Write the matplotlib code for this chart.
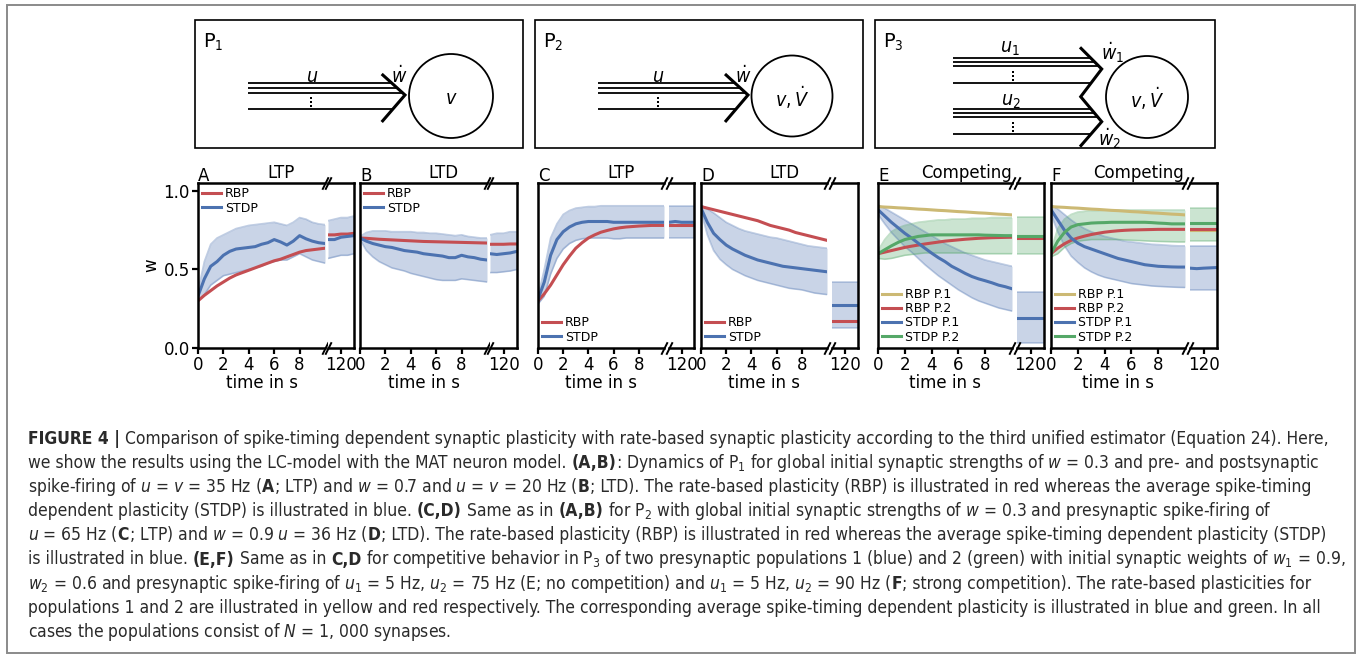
import matplotlib
matplotlib.use('Agg')
import matplotlib.pyplot as plt
from matplotlib import font_manager
from matplotlib.font_manager import FontProperties
from matplotlib.patches import Rectangle, Circle

# ============================================================
# DATA
# ============================================================
t_main = [0, 0.5, 1, 1.5, 2, 2.5, 3, 3.5, 4, 4.5, 5, 5.5, 6, 6.5, 7, 7.5, 8, 8.5, 9, 9.5, 10]
t_late = [119, 119.5, 120, 120.5, 121]

# A : P1, LTP
A_rbp = [0.30, 0.335, 0.365, 0.395, 0.42, 0.445, 0.465, 0.48, 0.495, 0.51, 0.525, 0.54, 0.555, 0.565, 0.58, 0.595, 0.61, 0.62, 0.625, 0.63, 0.635]
A_rbp_late = [0.72, 0.72, 0.725, 0.725, 0.73]
A_stdp = [0.33, 0.44, 0.52, 0.55, 0.59, 0.615, 0.63, 0.635, 0.64, 0.645, 0.66, 0.67, 0.69, 0.675, 0.655, 0.68, 0.715, 0.695, 0.68, 0.67, 0.665]
A_stdp_hi = [0.36, 0.55, 0.66, 0.70, 0.72, 0.74, 0.76, 0.77, 0.78, 0.785, 0.79, 0.795, 0.80, 0.79, 0.78, 0.80, 0.83, 0.82, 0.80, 0.79, 0.785]
A_stdp_lo = [0.30, 0.34, 0.40, 0.43, 0.46, 0.47, 0.48, 0.49, 0.50, 0.51, 0.52, 0.54, 0.55, 0.56, 0.56, 0.58, 0.60, 0.58, 0.56, 0.55, 0.54]
A_stdp_late = [0.69, 0.69, 0.705, 0.71, 0.715]
A_stdp_hi_late = [0.81, 0.82, 0.83, 0.83, 0.84]
A_stdp_lo_late = [0.57, 0.58, 0.59, 0.59, 0.60]

# B : P1, LTD
B_rbp = [0.70, 0.698, 0.695, 0.692, 0.69, 0.688, 0.686, 0.684, 0.682, 0.68, 0.678, 0.677, 0.676, 0.675, 0.674, 0.673, 0.672, 0.671, 0.67, 0.669, 0.668]
B_rbp_late = [0.66, 0.66, 0.66, 0.662, 0.662]
B_stdp = [0.70, 0.68, 0.665, 0.655, 0.645, 0.64, 0.63, 0.62, 0.615, 0.61, 0.60, 0.595, 0.59, 0.585, 0.575, 0.575, 0.59, 0.58, 0.575, 0.565, 0.56]
B_stdp_hi = [0.71, 0.735, 0.745, 0.745, 0.745, 0.74, 0.74, 0.74, 0.74, 0.735, 0.735, 0.73, 0.73, 0.725, 0.72, 0.715, 0.72, 0.71, 0.705, 0.70, 0.70]
B_stdp_lo = [0.69, 0.62, 0.58, 0.55, 0.53, 0.51, 0.50, 0.49, 0.475, 0.465, 0.455, 0.445, 0.435, 0.43, 0.43, 0.43, 0.44, 0.435, 0.43, 0.425, 0.42]
B_stdp_late = [0.60, 0.595, 0.60, 0.605, 0.615]
B_stdp_hi_late = [0.72, 0.73, 0.73, 0.74, 0.74]
B_stdp_lo_late = [0.48, 0.48, 0.485, 0.49, 0.50]

# C : P2, LTP
C_rbp = [0.30, 0.345, 0.40, 0.465, 0.53, 0.585, 0.635, 0.67, 0.70, 0.72, 0.737, 0.748, 0.758, 0.765, 0.77, 0.773, 0.776, 0.778, 0.78, 0.78, 0.78]
C_rbp_late = [0.78, 0.78, 0.78, 0.78, 0.78]
C_stdp = [0.31, 0.42, 0.59, 0.69, 0.74, 0.77, 0.79, 0.80, 0.805, 0.805, 0.805, 0.805, 0.80, 0.80, 0.80, 0.80, 0.80, 0.80, 0.80, 0.80, 0.80]
C_stdp_hi = [0.33, 0.50, 0.70, 0.79, 0.85, 0.875, 0.89, 0.895, 0.90, 0.90, 0.905, 0.905, 0.905, 0.905, 0.905, 0.905, 0.905, 0.905, 0.905, 0.905, 0.905]
C_stdp_lo = [0.28, 0.33, 0.47, 0.57, 0.63, 0.665, 0.685, 0.695, 0.70, 0.70, 0.70, 0.70, 0.695, 0.695, 0.70, 0.70, 0.70, 0.70, 0.70, 0.70, 0.70]
C_stdp_late = [0.80, 0.805, 0.80, 0.80, 0.80]
C_stdp_hi_late = [0.905, 0.905, 0.905, 0.905, 0.905]
C_stdp_lo_late = [0.70, 0.70, 0.70, 0.70, 0.70]

# D : P2, LTD
D_rbp = [0.90, 0.89, 0.88, 0.87, 0.86, 0.85, 0.84, 0.83, 0.82, 0.81, 0.795, 0.78, 0.77, 0.76, 0.75, 0.735, 0.725, 0.715, 0.705, 0.695, 0.685]
D_rbp_late = [0.17, 0.17, 0.17, 0.17, 0.17]
D_stdp = [0.89, 0.80, 0.73, 0.69, 0.655, 0.63, 0.61, 0.59, 0.575, 0.56, 0.55, 0.54, 0.53, 0.52, 0.515, 0.51, 0.505, 0.50, 0.495, 0.49, 0.485]
D_stdp_hi = [0.91, 0.885, 0.86, 0.83, 0.80, 0.78, 0.76, 0.745, 0.735, 0.725, 0.715, 0.705, 0.70, 0.69, 0.68, 0.67, 0.66, 0.65, 0.645, 0.64, 0.635]
D_stdp_lo = [0.87, 0.72, 0.62, 0.565, 0.53, 0.50, 0.48, 0.46, 0.445, 0.43, 0.42, 0.41, 0.40, 0.39, 0.38, 0.375, 0.37, 0.36, 0.35, 0.345, 0.34]
D_stdp_late = [0.275, 0.275, 0.275, 0.275, 0.275]
D_stdp_hi_late = [0.42, 0.42, 0.42, 0.42, 0.42]
D_stdp_lo_late = [0.125, 0.125, 0.125, 0.125, 0.125]

# E : P3, no competition
E_rbp1 = [0.90, 0.897, 0.895, 0.892, 0.89, 0.887, 0.884, 0.882, 0.879, 0.876, 0.874, 0.871, 0.868, 0.866, 0.863, 0.86, 0.858, 0.855, 0.852, 0.85, 0.847]
E_rbp1_late = [0.71, 0.71, 0.71, 0.71, 0.71]
E_rbp2 = [0.60, 0.61, 0.62, 0.63, 0.64, 0.648, 0.655, 0.662, 0.668, 0.674, 0.68, 0.684, 0.688, 0.692, 0.695, 0.698, 0.70, 0.702, 0.703, 0.704, 0.705]
E_rbp2_late = [0.70, 0.70, 0.70, 0.70, 0.70]
E_stdp1 = [0.88, 0.84, 0.80, 0.765, 0.73, 0.70, 0.667, 0.635, 0.604, 0.575, 0.55, 0.52, 0.498, 0.475, 0.455, 0.44, 0.428, 0.415, 0.40, 0.39, 0.377]
E_stdp1_hi = [0.91, 0.89, 0.865, 0.84, 0.815, 0.79, 0.765, 0.74, 0.715, 0.69, 0.665, 0.645, 0.625, 0.605, 0.59, 0.575, 0.56, 0.55, 0.54, 0.53, 0.52]
E_stdp1_lo = [0.85, 0.79, 0.735, 0.69, 0.645, 0.61, 0.57, 0.53, 0.495, 0.46, 0.43, 0.40, 0.37, 0.345, 0.32, 0.30, 0.285, 0.27, 0.255, 0.245, 0.235]
E_stdp1_late = [0.19, 0.19, 0.19, 0.19, 0.19]
E_stdp1_hi_late = [0.355, 0.355, 0.355, 0.355, 0.355]
E_stdp1_lo_late = [0.03, 0.03, 0.03, 0.03, 0.03]
E_stdp2 = [0.60, 0.625, 0.65, 0.672, 0.69, 0.70, 0.71, 0.715, 0.72, 0.72, 0.72, 0.72, 0.72, 0.72, 0.72, 0.72, 0.718, 0.717, 0.716, 0.715, 0.715]
E_stdp2_hi = [0.62, 0.69, 0.74, 0.765, 0.78, 0.79, 0.80, 0.805, 0.81, 0.815, 0.815, 0.82, 0.82, 0.82, 0.825, 0.825, 0.825, 0.83, 0.83, 0.83, 0.83]
E_stdp2_lo = [0.57, 0.565, 0.57, 0.58, 0.59, 0.595, 0.60, 0.605, 0.605, 0.605, 0.605, 0.605, 0.605, 0.605, 0.60, 0.60, 0.60, 0.60, 0.60, 0.60, 0.60]
E_stdp2_late = [0.715, 0.715, 0.715, 0.715, 0.715]
E_stdp2_hi_late = [0.835, 0.835, 0.835, 0.835, 0.835]
E_stdp2_lo_late = [0.60, 0.60, 0.60, 0.60, 0.60]

# F : P3, strong competition
F_rbp1 = [0.90, 0.897, 0.895, 0.892, 0.89, 0.887, 0.884, 0.882, 0.879, 0.876, 0.874, 0.871, 0.868, 0.866, 0.863, 0.86, 0.858, 0.855, 0.852, 0.85, 0.847]
F_rbp1_late = [0.752, 0.752, 0.752, 0.752, 0.752]
F_rbp2 = [0.60, 0.635, 0.663, 0.685, 0.70, 0.712, 0.722, 0.73, 0.737, 0.742, 0.746, 0.749, 0.751, 0.752, 0.753, 0.754, 0.755, 0.755, 0.755, 0.755, 0.755]
F_rbp2_late = [0.755, 0.755, 0.755, 0.755, 0.755]
F_stdp1 = [0.88, 0.815, 0.75, 0.70, 0.667, 0.645, 0.63, 0.615, 0.60, 0.585, 0.57, 0.56, 0.55, 0.54, 0.53, 0.525, 0.52, 0.518, 0.516, 0.515, 0.515]
F_stdp1_hi = [0.91, 0.885, 0.85, 0.815, 0.785, 0.76, 0.74, 0.725, 0.71, 0.70, 0.69, 0.68, 0.675, 0.67, 0.665, 0.66, 0.658, 0.655, 0.652, 0.65, 0.65]
F_stdp1_lo = [0.85, 0.74, 0.65, 0.585, 0.545, 0.51, 0.485, 0.465, 0.45, 0.44, 0.43, 0.42, 0.41, 0.405, 0.40, 0.395, 0.392, 0.39, 0.388, 0.386, 0.385]
F_stdp1_late = [0.508, 0.505, 0.508, 0.51, 0.512]
F_stdp1_hi_late = [0.646, 0.646, 0.646, 0.646, 0.646]
F_stdp1_lo_late = [0.37, 0.37, 0.37, 0.37, 0.37]
F_stdp2 = [0.60, 0.68, 0.735, 0.77, 0.785, 0.79, 0.795, 0.797, 0.798, 0.80, 0.80, 0.80, 0.80, 0.80, 0.80, 0.798, 0.795, 0.793, 0.79, 0.79, 0.79]
F_stdp2_hi = [0.62, 0.76, 0.82, 0.85, 0.865, 0.87, 0.875, 0.875, 0.877, 0.878, 0.878, 0.878, 0.878, 0.878, 0.878, 0.878, 0.878, 0.878, 0.878, 0.878, 0.878]
F_stdp2_lo = [0.58, 0.60, 0.64, 0.665, 0.68, 0.685, 0.69, 0.69, 0.69, 0.69, 0.69, 0.688, 0.686, 0.684, 0.682, 0.68, 0.678, 0.677, 0.676, 0.675, 0.675]
F_stdp2_late = [0.795, 0.795, 0.795, 0.795, 0.795]
F_stdp2_hi_late = [0.89, 0.89, 0.89, 0.89, 0.89]
F_stdp2_lo_late = [0.68, 0.68, 0.68, 0.68, 0.68]

BLUE = '#4c72b0'
RED = '#c44e52'
GREEN = '#55a868'
YELLOW = '#ccb974'

caption = [
    [('FIGURE 4 |', True), (' Comparison of spike-timing dependent synaptic plasticity with rate-based synaptic plasticity according to the third unified estimator (Equation 24). Here,', False)],
    [('we show the results using the LC-model with the MAT neuron model. ', False), ('(A,B)', True), (': Dynamics of P$_1$ for global initial synaptic strengths of $w$ = 0.3 and pre- and postsynaptic', False)],
    [('spike-firing of $u$ = $v$ = 35 Hz (', False), ('A', True), ('; LTP) and $w$ = 0.7 and $u$ = $v$ = 20 Hz (', False), ('B', True), ('; LTD). The rate-based plasticity (RBP) is illustrated in red whereas the average spike-timing', False)],
    [('dependent plasticity (STDP) is illustrated in blue. ', False), ('(C,D)', True), (' Same as in ', False), ('(A,B)', True), (' for P$_2$ with global initial synaptic strengths of $w$ = 0.3 and presynaptic spike-firing of', False)],
    [('$u$ = 65 Hz (', False), ('C', True), ('; LTP) and $w$ = 0.9 $u$ = 36 Hz (', False), ('D', True), ('; LTD). The rate-based plasticity (RBP) is illustrated in red whereas the average spike-timing dependent plasticity (STDP)', False)],
    [('is illustrated in blue. ', False), ('(E,F)', True), (' Same as in ', False), ('C,D', True), (' for competitive behavior in P$_3$ of two presynaptic populations 1 (blue) and 2 (green) with initial synaptic weights of $w_1$ = 0.9,', False)],
    [('$w_2$ = 0.6 and presynaptic spike-firing of $u_1$ = 5 Hz, $u_2$ = 75 Hz (E; no competition) and $u_1$ = 5 Hz, $u_2$ = 90 Hz (', False), ('F', True), ('; strong competition). The rate-based plasticities for', False)],
    [('populations 1 and 2 are illustrated in yellow and red respectively. The corresponding average spike-timing dependent plasticity is illustrated in blue and green. In all', False)],
    [('cases the populations consist of $N$ = 1, 000 synapses.', False)],
]

# ============================================================
# FONTS : look for a narrow face for the caption
# ============================================================
CAP_FONT, CAP_STRETCH = 'DejaVu Sans', 'normal'
for fam in ['Liberation Sans Narrow', 'DejaVu Sans', 'Noto Sans', 'Open Sans', 'Roboto']:
    try:
        path = font_manager.findfont(FontProperties(family=fam, stretch='condensed'),
                                     fallback_to_default=False)
    except Exception:
        continue
    if fam == 'Liberation Sans Narrow' or 'ondensed' in path or 'Narrow' in path:
        CAP_FONT = fam
        CAP_STRETCH = 'normal' if fam == 'Liberation Sans Narrow' else 'condensed'
        break

pat = CAP_FONT + ('' if CAP_STRETCH == 'normal' else ':stretch=condensed')
plt.rcParams['mathtext.fontset'] = 'custom'
plt.rcParams['mathtext.rm'] = pat
plt.rcParams['mathtext.it'] = pat + ':style=italic'
plt.rcParams['mathtext.bf'] = pat + ':weight=bold'

W, H = 1360, 658
fig = plt.figure(figsize=(W / 100, H / 100), dpi=100)

# overlay in pixel coordinates (y down) for frame, schematics and caption
ov = fig.add_axes([0, 0, 1, 1])
ov.set_xlim(0, W)
ov.set_ylim(H, 0)
ov.axis('off')

ov.add_patch(Rectangle((7, 5), 1348, 648, fill=False, ec='#8a8a8a', lw=1.4))


# ============================================================
# SCHEMATICS P1, P2, P3
# ============================================================
def line(xs, ys, lw=1.3):
    ov.plot(xs, ys, color='k', lw=lw, solid_capstyle='butt', solid_joinstyle='miter')


def dots(x, y0):
    ov.plot([x, x, x], [y0, y0 + 4, y0 + 8], 's', color='k', ms=1.8, mew=0)


def label(x, y, s, size=14):
    ov.text(x, y, s, ha='center', va='center', fontsize=size)


# P1
ov.add_patch(Rectangle((195, 20), 328, 128, fill=False, ec='k', lw=1.2))
ov.text(203, 42, 'P$_1$', ha='left', va='center', fontsize=14)
for y, xe in [(83, 391.5), (88, 397), (93, 402.5)]:
    line([248, xe], [y, y])
line([248, 393], [109, 109])
line([381.7, 405, 381.7], [74, 95, 122], lw=2.2)
dots(311, 98)
label(312, 76, '$u$')
label(399, 76, r'$\dot{w}$')
ov.add_patch(Circle((451, 96), 42, fill=False, ec='k', lw=1.3))
label(451, 98, '$v$')

# P2
ov.add_patch(Rectangle((535, 20), 328, 128, fill=False, ec='k', lw=1.2))
ov.text(543, 42, 'P$_2$', ha='left', va='center', fontsize=14)
for y, xe in [(83, 735), (88, 740.5), (93, 746)]:
    line([598, xe], [y, y])
line([598, 736], [109, 109])
line([725, 748, 725], [74, 95, 122], lw=2.2)
dots(658, 98)
label(658, 76, '$u$')
label(743, 76, r'$\dot{w}$')
ov.add_patch(Circle((792, 96), 40.5, fill=False, ec='k', lw=1.3))
label(792, 98, r'$v,\dot{V}$')

# P3
ov.add_patch(Rectangle((875, 20), 340, 128, fill=False, ec='k', lw=1.2))
ov.text(883, 42, 'P$_3$', ha='left', va='center', fontsize=14)
for y, xe in [(57.7, 1090.4), (61.7, 1094.4), (65.7, 1098.4), (82.7, 1091.3)]:
    line([953, xe], [y, y])
for y, xe in [(109, 1091), (113.3, 1094.6), (117.3, 1098), (134, 1091)]:
    line([953, xe], [y, y])
line([1080, 1101.7, 1080.7, 1101.7, 1080], [47.3, 69, 96.7, 121.7, 146.7], lw=2.2)
dots(1013, 72)
dots(1013, 123)
label(1010, 48, '$u_1$')
label(1011, 101, '$u_2$')
label(1113, 53, r'$\dot{w}_1$')
label(1110, 139, r'$\dot{w}_2$')
ov.add_patch(Circle((1147, 97), 41, fill=False, ec='k', lw=1.3))
label(1147, 99, r'$v,\dot{V}$')


# ============================================================
# DATA PANELS
# ============================================================
TOP, BOT = 183, 348


def px_rect(x0, x1):
    return [x0 / W, 1 - BOT / H, (x1 - x0) / W, (BOT - TOP) / H]


def style(ax):
    for s in ax.spines.values():
        s.set_linewidth(1.8)
    ax.tick_params(labelsize=12, width=1.6, length=4, pad=2)
    ax.set_ylim(0, 1.05)


def panel(x0, x1, x2, x3, letter, title, lines, bands, legend_loc, ylab=False):
    ax = fig.add_axes(px_rect(x0, x1))
    ax2 = fig.add_axes(px_rect(x2, x3))
    for a in (ax, ax2):
        style(a)
    for hi, lo, hi_l, lo_l, col in bands:
        ax.fill_between(t_main, lo, hi, color=col, alpha=0.3, lw=0)
        ax2.fill_between(t_late, lo_l, hi_l, color=col, alpha=0.3, lw=0)
        for a, tt, vals in [(ax, t_main, hi), (ax, t_main, lo), (ax2, t_late, hi_l), (ax2, t_late, lo_l)]:
            a.plot(tt, vals, color=col, alpha=0.35, lw=1.2)
    for main, late, col, lab in lines:
        ax.plot(t_main, main, color=col, lw=2.2, label=lab)
        ax2.plot(t_late, late, color=col, lw=2.2)
    ax.set_xlim(0, 10)
    ax2.set_xlim(119, 121)
    ax.set_xticks([0, 2, 4, 6, 8])
    ax2.set_xticks([120])
    ax.spines['right'].set_visible(False)
    ax2.spines['left'].set_visible(False)
    ax2.set_yticks([])
    if ylab:
        ax.set_yticks([0, 0.5, 1.0])
        ax.set_yticklabels(['0.0', '0.5', '1.0'])
        ax.set_ylabel('w', fontsize=12, labelpad=2)
    else:
        ax.set_yticks([])
    ax.set_xlabel('time in s', fontsize=12, labelpad=0)
    kw = dict(marker=[(-0.5, -1), (0.5, 1)], markersize=9, linestyle='none',
              color='k', mec='k', mew=1.4, clip_on=False)
    ax.plot([1, 1], [0, 1], transform=ax.transAxes, **kw)
    ax2.plot([0, 0], [0, 1], transform=ax2.transAxes, **kw)
    ax.legend(loc=legend_loc, frameon=False, fontsize=9, handlelength=1.5,
              handletextpad=0.3, labelspacing=0.1, borderaxespad=0.15, borderpad=0.2)
    ov.text(x0, 181, letter, ha='left', va='baseline', fontsize=12)
    ov.text((x0 + x3) / 2 + 5, 178, title, ha='center', va='baseline', fontsize=12)


panel(198, 325, 328, 354, 'A', 'LTP',
      [(A_rbp, A_rbp_late, RED, 'RBP'), (A_stdp, A_stdp_late, BLUE, 'STDP')],
      [(A_stdp_hi, A_stdp_lo, A_stdp_hi_late, A_stdp_lo_late, BLUE)], 'upper left', ylab=True)
panel(360, 487, 490, 517, 'B', 'LTD',
      [(B_rbp, B_rbp_late, RED, 'RBP'), (B_stdp, B_stdp_late, BLUE, 'STDP')],
      [(B_stdp_hi, B_stdp_lo, B_stdp_hi_late, B_stdp_lo_late, BLUE)], 'upper left')
panel(538, 664, 669, 694, 'C', 'LTP',
      [(C_rbp, C_rbp_late, RED, 'RBP'), (C_stdp, C_stdp_late, BLUE, 'STDP')],
      [(C_stdp_hi, C_stdp_lo, C_stdp_hi_late, C_stdp_lo_late, BLUE)], 'lower left')
panel(701, 827, 832, 858, 'D', 'LTD',
      [(D_rbp, D_rbp_late, RED, 'RBP'), (D_stdp, D_stdp_late, BLUE, 'STDP')],
      [(D_stdp_hi, D_stdp_lo, D_stdp_hi_late, D_stdp_lo_late, BLUE)], 'lower left')
panel(878, 1012, 1017, 1044, 'E', 'Competing',
      [(E_rbp1, E_rbp1_late, YELLOW, 'RBP P.1'), (E_rbp2, E_rbp2_late, RED, 'RBP P.2'),
       (E_stdp1, E_stdp1_late, BLUE, 'STDP P.1'), (E_stdp2, E_stdp2_late, GREEN, 'STDP P.2')],
      [(E_stdp1_hi, E_stdp1_lo, E_stdp1_hi_late, E_stdp1_lo_late, BLUE),
       (E_stdp2_hi, E_stdp2_lo, E_stdp2_hi_late, E_stdp2_lo_late, GREEN)], 'lower left')
panel(1051, 1185, 1190, 1217, 'F', 'Competing',
      [(F_rbp1, F_rbp1_late, YELLOW, 'RBP P.1'), (F_rbp2, F_rbp2_late, RED, 'RBP P.2'),
       (F_stdp1, F_stdp1_late, BLUE, 'STDP P.1'), (F_stdp2, F_stdp2_late, GREEN, 'STDP P.2')],
      [(F_stdp1_hi, F_stdp1_lo, F_stdp1_hi_late, F_stdp1_lo_late, BLUE),
       (F_stdp2_hi, F_stdp2_lo, F_stdp2_hi_late, F_stdp2_lo_late, GREEN)], 'lower left')


# ============================================================
# CAPTION (mixed bold / regular runs)
# ============================================================
renderer = fig.canvas.get_renderer()


def cap_text(x, y, s, size, bold):
    return ov.text(x, y, s, fontsize=size, family=CAP_FONT, fontstretch=CAP_STRETCH,
                   fontweight='bold' if bold else 'normal', ha='left', va='baseline', color='#2a2a2a')


def width_of(s, size, bold):
    t = cap_text(0, 0, s, size, bold)
    w = t.get_window_extent(renderer=renderer).width
    t.remove()
    return w


def space_width(size, bold):
    return width_of('a a', size, bold) - width_of('aa', size, bold)


def draw_line(x, y, parts, size):
    artists = []
    for s, bold in parts:
        sp = space_width(size, bold)
        x += sp * (len(s) - len(s.lstrip(' ')))
        t = cap_text(x, y, s.strip(' '), size, bold)
        artists.append(t)
        x += t.get_window_extent(renderer=renderer).width
        x += sp * (len(s) - len(s.rstrip(' ')))
    return x, artists


# size the caption so that its widest line ends where the reference's does
CAP_X, CAP_RIGHT = 28, 1339
widest = 0
for parts in caption:
    end, arts = draw_line(CAP_X, 444, parts, 12)
    for a in arts:
        a.remove()
    widest = max(widest, end - CAP_X)
cap_size = 12 * (CAP_RIGHT - CAP_X) / widest
for i in range(len(caption)):
    draw_line(CAP_X, 444 + 24.1 * i, caption[i], cap_size)

fig.savefig('out.png', dpi=100)
